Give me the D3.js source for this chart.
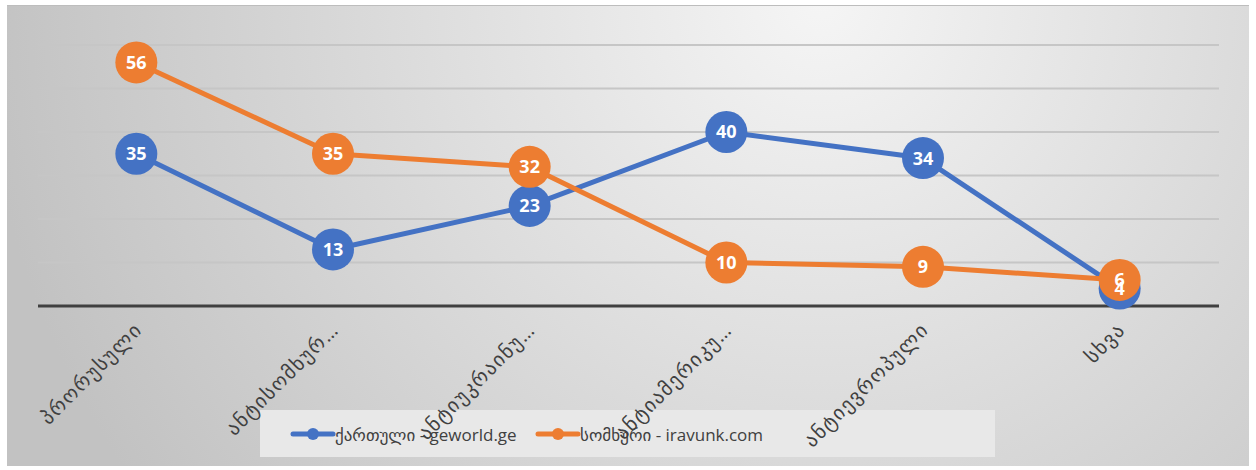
<!DOCTYPE html>
<html>
<head>
<meta charset="utf-8">
<script src="https://cdn.jsdelivr.net/npm/d3@7"></script>
<style>
  html, body { margin: 0; padding: 0; background: #ffffff; }
  svg { display: block; }
  text { font-family: "Open Sans", "DejaVu Sans", sans-serif; }
</style>
</head>
<body>
<svg id="chart" width="1256" height="470"></svg>
<script>
// Categories (rotated x-axis labels)
const categories = ["პრორუსული", "ანტისომხურ…", "ანტიუკრაინუ…", "ანტიამერიკუ…", "ანტიევროპული", "სხვა"];
// Series values
const georgianValues = [35, 13, 23, 40, 34, 4];
const armenianValues = [56, 35, 32, 10, 9, 6];
const seriesNames = ["ქართული - geworld.ge", "სომხური - iravunk.com"];
const seriesColors = ["#4472c4", "#ed7d31"];
const yTicks = [0, 10, 20, 30, 40, 50, 60];

const svg = d3.select("#chart");

// Background panel with soft radial shading
const defs = svg.append("defs");
const grad = defs.append("radialGradient")
  .attr("id", "bg").attr("gradientUnits", "userSpaceOnUse")
  .attr("cx", 820).attr("cy", 0).attr("r", 840);
grad.append("stop").attr("offset", "0%").attr("stop-color", "#f5f5f5");
grad.append("stop").attr("offset", "100%").attr("stop-color", "#c2c2c2");

svg.append("rect").attr("x", 7).attr("y", 5).attr("width", 1242).attr("height", 461)
  .attr("fill", "url(#bg)");
svg.append("line").attr("x1", 7).attr("x2", 1249).attr("y1", 5.5).attr("y2", 5.5)
  .attr("stroke", "#bdbdbd").attr("stroke-width", 1);

const x = d3.scalePoint().domain(categories).range([38, 1218]).padding(0.5);
const y = d3.scaleLinear().domain([0, 60]).range([306, 45]);

// Gridlines
svg.append("g").selectAll("line").data(yTicks.filter(d => d > 0)).join("line")
  .attr("x1", 38).attr("x2", 1219)
  .attr("y1", d => y(d)).attr("y2", d => y(d))
  .attr("stroke", "#c6c6c6").attr("stroke-width", 2);

// Baseline
svg.append("line").attr("x1", 38).attr("x2", 1219)
  .attr("y1", y(0)).attr("y2", y(0))
  .attr("stroke", "#404040").attr("stroke-width", 3);

// Legend box
svg.append("rect").attr("x", 260).attr("y", 410).attr("width", 735).attr("height", 47)
  .attr("fill", "#e8e8e8");

const legendItems = [
  { name: seriesNames[0], color: seriesColors[0], x0: 293 },
  { name: seriesNames[1], color: seriesColors[1], x0: 538 }
];
const lg = svg.append("g").selectAll("g").data(legendItems).join("g")
  .attr("transform", d => `translate(${d.x0},434)`);
lg.append("line").attr("x1", 0).attr("x2", 40).attr("y1", 0).attr("y2", 0)
  .attr("stroke", d => d.color).attr("stroke-width", 5).attr("stroke-linecap", "round");
lg.append("circle").attr("cx", 20).attr("cy", 0).attr("r", 6).attr("fill", d => d.color);
lg.append("text").attr("x", 42).attr("y", 7).attr("font-size", 17).attr("fill", "#404040")
  .text(d => d.name);

// Category labels rotated -45°
svg.append("g").selectAll("text").data(categories).join("text")
  .attr("transform", d => `translate(${x(d) + 2},${326}) rotate(-45)`)
  .attr("text-anchor", "end")
  .attr("dy", "0.35em")
  .attr("font-size", 20)
  .attr("letter-spacing", 1.5)
  .attr("fill", "#404040")
  .text(d => d);

// Series lines, markers and value labels
const series = [
  { values: georgianValues, color: seriesColors[0] },
  { values: armenianValues, color: seriesColors[1] }
];
const line = d3.line().x((d, i) => x(categories[i])).y(d => y(d));

const sg = svg.append("g").selectAll("g").data(series).join("g");
sg.append("path").attr("d", d => line(d.values))
  .attr("fill", "none").attr("stroke", d => d.color).attr("stroke-width", 5)
  .attr("stroke-linejoin", "round");
sg.selectAll("circle").data(d => d.values.map(v => ({ v, color: d.color }))).join("circle")
  .attr("cx", (d, i) => x(categories[i])).attr("cy", d => y(d.v))
  .attr("r", 21).attr("fill", d => d.color);

const lab = svg.append("g");
series.forEach(s => {
  lab.append("g").selectAll("text").data(s.values).join("text")
    .attr("x", (d, i) => x(categories[i])).attr("y", d => y(d))
    .attr("dy", "0.36em")
    .attr("text-anchor", "middle")
    .attr("font-size", 18).attr("font-weight", "bold").attr("fill", "#ffffff")
    .text(d => d);
});
</script>
</body>
</html>
